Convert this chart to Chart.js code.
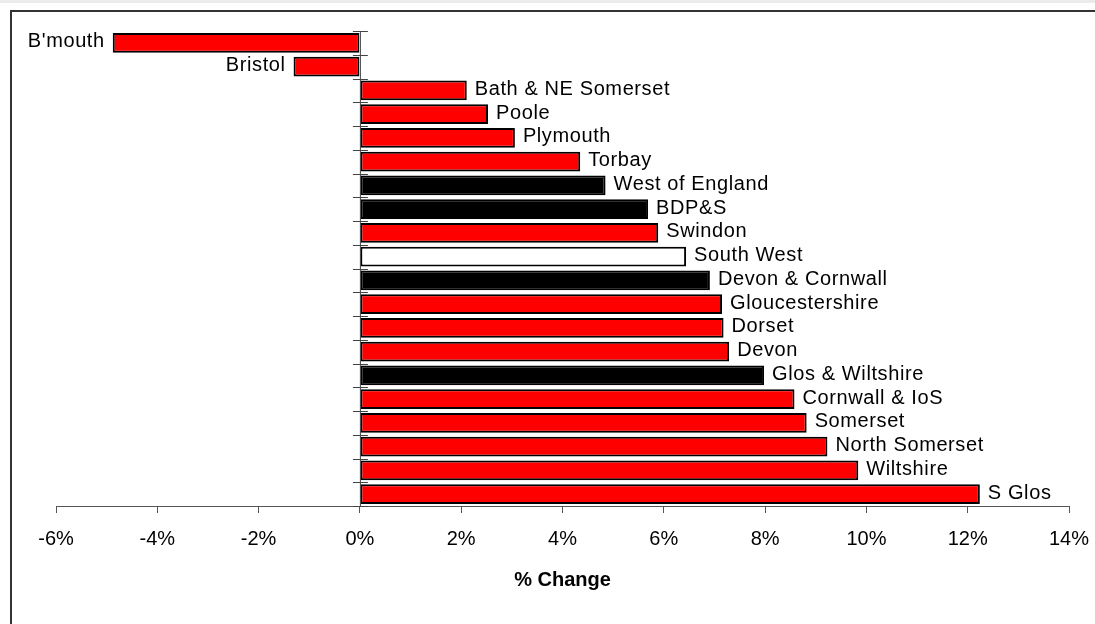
<!DOCTYPE html>
<html>
<head>
<meta charset="utf-8">
<script src="https://cdn.jsdelivr.net/npm/chart.js@4"></script>
<style>
  html, body { margin: 0; padding: 0; background: #fff; }
  #wrap { position: relative; width: 1095px; height: 624px; overflow: hidden; }
  #strip { position: absolute; left: 0; top: 0; width: 1095px; height: 3px; background: #ebebeb; }
  #frame { position: absolute; left: 10px; top: 10px; width: 1200px; height: 700px;
           border-left: 2px solid #333; border-top: 2px solid #333; }
  canvas { position: absolute; left: 0; top: 0; }
</style>
</head>
<body>
<div id="wrap">
  <div id="strip"></div>
  <div id="frame"></div>
  <canvas id="changeChart" width="1095" height="624"></canvas>
</div>
<script>
const categories = [
  "B'mouth", "Bristol", "Bath & NE Somerset", "Poole", "Plymouth", "Torbay",
  "West of England", "BDP&S", "Swindon", "South West", "Devon & Cornwall",
  "Gloucestershire", "Dorset", "Devon", "Glos & Wiltshire", "Cornwall & IoS",
  "Somerset", "North Somerset", "Wiltshire", "S Glos"
];
const pctChange = [
  -4.88, -1.31, 2.11, 2.53, 3.06, 4.35,
  4.85, 5.69, 5.89, 6.44, 6.91,
  7.15, 7.18, 7.29, 7.98, 8.58,
  8.82, 9.23, 9.84, 12.24
];
// "ua" = unitary/county, "grp" = sub-region grouping, "reg" = whole region
const kinds = [
  "ua", "ua", "ua", "ua", "ua", "ua",
  "grp", "grp", "ua", "reg", "grp",
  "ua", "ua", "ua", "grp", "ua",
  "ua", "ua", "ua", "ua"
];
const xTicks = [-6, -4, -2, 0, 2, 4, 6, 8, 10, 12, 14];

const kindColour = { ua: "#ff0000", grp: "#000000", reg: "#ffffff" };
const font = "'Liberation Sans', Arial, sans-serif";

// y axis at zero with cross ticks, plus the name next to each bar end
const barLabels = {
  id: "barLabels",
  afterDatasetsDraw(chart) {
    const { ctx, chartArea } = chart;
    const x0 = chart.scales.x.getPixelForValue(0);
    const n = categories.length;
    const band = (chartArea.bottom - chartArea.top) / n;
    ctx.save();
    ctx.strokeStyle = "#444";
    ctx.lineWidth = 1;
    ctx.beginPath();
    ctx.moveTo(x0 + 0.5, chartArea.top);
    ctx.lineTo(x0 + 0.5, chartArea.bottom);
    for (let i = 0; i <= n; i++) {
      const y = Math.round(chartArea.top + i * band) + 0.5;
      ctx.moveTo(x0 - 7, y);
      ctx.lineTo(x0 + 8, y);
    }
    ctx.stroke();

    ctx.fillStyle = "#000";
    ctx.font = "20px " + font;
    ctx.textBaseline = "middle";
    if ("letterSpacing" in ctx) ctx.letterSpacing = "0.6px";
    chart.getDatasetMeta(0).data.forEach((bar, i) => {
      const neg = pctChange[i] < 0;
      ctx.textAlign = neg ? "right" : "left";
      ctx.fillText(categories[i], bar.x + (neg ? -8 : 8), bar.y - 1);
    });
    ctx.restore();
  }
};

new Chart(document.getElementById("changeChart"), {
  type: "bar",
  data: {
    labels: categories,
    datasets: [{
      data: pctChange,
      backgroundColor: kinds.map(k => kindColour[k]),
      borderColor: "#000",
      borderWidth: 2,
      borderSkipped: false,
      barPercentage: 0.84,
      categoryPercentage: 1
    }]
  },
  options: {
    indexAxis: "y",
    responsive: false,
    animation: false,
    layout: { padding: { left: 56, right: 26, top: 31, bottom: 0 } },
    plugins: { legend: { display: false }, tooltip: { enabled: false } },
    scales: {
      y: { display: false },
      x: {
        min: -6,
        max: 14,
        afterBuildTicks(scale) { scale.ticks = xTicks.map(v => ({ value: v })); },
        afterFit(scale) {
          scale.height = 118;
          scale.paddingLeft = 0;
          scale.paddingRight = 0;
        },
        border: { color: "#555", width: 1 },
        grid: { drawOnChartArea: false, tickLength: 7, color: "#555" },
        ticks: {
          padding: 14,
          color: "#000",
          font: { family: font, size: 20 },
          callback: v => v + "%"
        },
        title: {
          display: true,
          text: "% Change",
          color: "#000",
          font: { family: font, size: 20, weight: "bold" },
          padding: { top: 0, bottom: 32 }
        }
      }
    }
  },
  plugins: [barLabels]
});
</script>
</body>
</html>
